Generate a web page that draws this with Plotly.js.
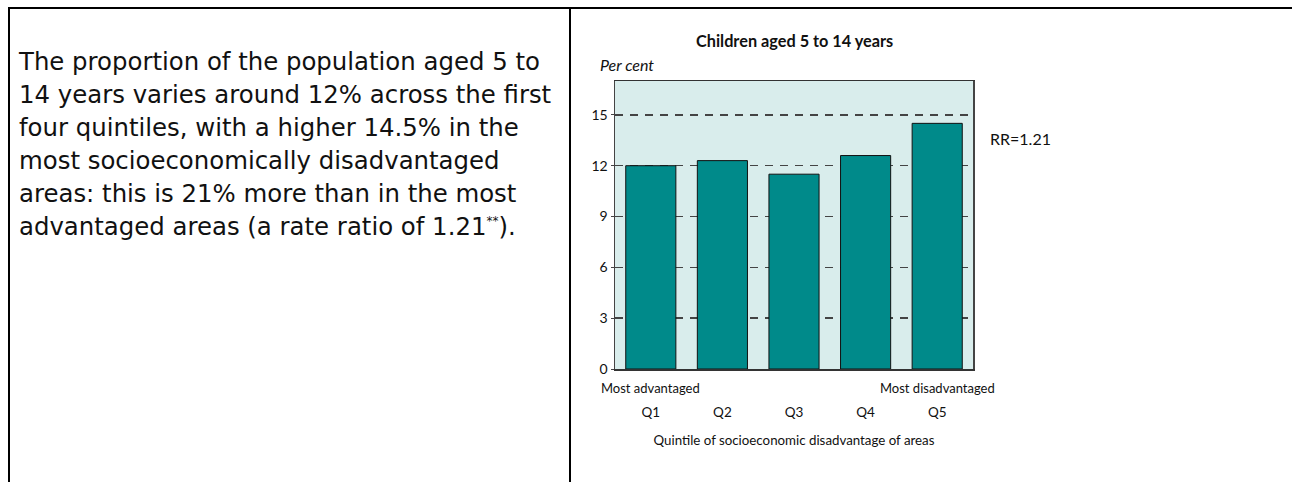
<!DOCTYPE html>
<html>
<head>
<meta charset="utf-8">
<script src="https://cdn.plot.ly/plotly-3.0.1.min.js"></script>
<style>
  html, body { margin: 0; padding: 0; background: #ffffff; }
  #wrap { position: relative; width: 1292px; height: 482px; overflow: hidden; background: #fff; }
  #chart { position: absolute; left: 0; top: 0; width: 1292px; height: 482px; }
  .rule { position: absolute; background: #000; }
  #para { position: absolute; left: 19px; top: 45px; font-family: 'DejaVu Sans', sans-serif;
          font-size: 24.4px; line-height: 33px; color: #111; white-space: nowrap; }
  #para sup { font-size: 12px; vertical-align: 10px; line-height: 0; }
</style>
</head>
<body>
<div id="wrap">
  <div id="chart"></div>
  <div class="rule" style="left:8px; top:7px; width:1284px; height:2px;"></div>
  <div class="rule" style="left:8px; top:7px; width:2px; height:475px;"></div>
  <div class="rule" style="left:569px; top:7px; width:2px; height:475px;"></div>
  <div id="para"></div>
</div>
<script>
// ---- data ----
const quintiles = ['Q1', 'Q2', 'Q3', 'Q4', 'Q5'];
const percentValues = [12.0, 12.3, 11.5, 12.6, 14.5];
const yTickValues = [0, 3, 6, 9, 12, 15];
const chartTitle = 'Children aged 5 to 14 years';
const yUnitLabel = 'Per cent';
const xAxisTitle = 'Quintile of socioeconomic disadvantage of areas';
const lowEndLabel = 'Most advantaged';
const highEndLabel = 'Most disadvantaged';
const rateRatioLabel = 'RR=1.21';
const paragraphLines = [
  'The proportion of the population aged 5 to',
  '14 years varies around 12% across the first',
  'four quintiles, with a higher 14.5% in the',
  'most socioeconomically disadvantaged',
  'areas: this is 21% more than in the most',
  'advantaged areas (a rate ratio of 1.21<sup>**</sup>).'
];

document.getElementById('para').innerHTML = paragraphLines.join('<br>');

const chartFont = 'Lato, "Open Sans", sans-serif';

const trace = {
  type: 'bar',
  x: quintiles,
  y: percentValues,
  marker: { color: '#008a8a', line: { color: '#111', width: 1 } },
  hoverinfo: 'skip'
};

const layout = {
  width: 1292,
  height: 482,
  margin: { l: 615, r: 319, t: 81, b: 113, pad: 0 },
  paper_bgcolor: 'rgba(0,0,0,0)',
  plot_bgcolor: '#d9edec',
  bargap: 0.3,
  showlegend: false,
  font: { family: chartFont, size: 13, color: '#111' },
  xaxis: {
    type: 'category',
    range: [-0.5, quintiles.length - 0.5],
    autorange: false,
    showline: true, mirror: true, linecolor: '#333', linewidth: 1.5,
    showgrid: false, zeroline: false, ticks: '',
    ticklabelstandoff: 30,
    tickfont: { family: chartFont, size: 13.5, color: '#111' },
    title: { text: xAxisTitle, font: { family: chartFont, size: 13.3, color: '#111' }, standoff: 17 },
    automargin: false
  },
  yaxis: {
    range: [0, 17],
    autorange: false,
    tickvals: yTickValues,
    showline: true, mirror: true, linecolor: '#444', linewidth: 1.5,
    showgrid: true, gridcolor: '#444', gridwidth: 1.5, griddash: '8px,7px',
    zeroline: false,
    ticks: 'outside', ticklen: 3, tickcolor: '#444',
    tickfont: { family: chartFont, size: 14, color: '#111' },
    automargin: false
  },
  annotations: [
    { text: '<b>' + chartTitle + '</b>', xref: 'paper', yref: 'paper', x: 0.5, y: 1.142,
      xanchor: 'center', yanchor: 'middle', showarrow: false,
      font: { family: chartFont, size: 16.3, color: '#111' } },
    { text: '<i>' + yUnitLabel + '</i>', xref: 'paper', yref: 'paper', x: -0.047, y: 1.056,
      xanchor: 'left', yanchor: 'middle', showarrow: false,
      font: { family: chartFont, size: 16, color: '#111' } },
    { text: rateRatioLabel, xref: 'paper', yref: 'paper', x: 1.042, y: 0.802,
      xanchor: 'left', yanchor: 'middle', showarrow: false,
      font: { family: chartFont, size: 16, color: '#111' } },
    { text: lowEndLabel, xref: 'x', yref: 'paper', x: quintiles[0], y: -0.066,
      xanchor: 'center', yanchor: 'middle', showarrow: false,
      font: { family: chartFont, size: 13, color: '#111' } },
    { text: highEndLabel, xref: 'x', yref: 'paper', x: quintiles[quintiles.length - 1], y: -0.066,
      xanchor: 'center', yanchor: 'middle', showarrow: false,
      font: { family: chartFont, size: 13, color: '#111' } }
  ]
};

Plotly.newPlot('chart', [trace], layout, { displayModeBar: false, staticPlot: true });
</script>
</body>
</html>
